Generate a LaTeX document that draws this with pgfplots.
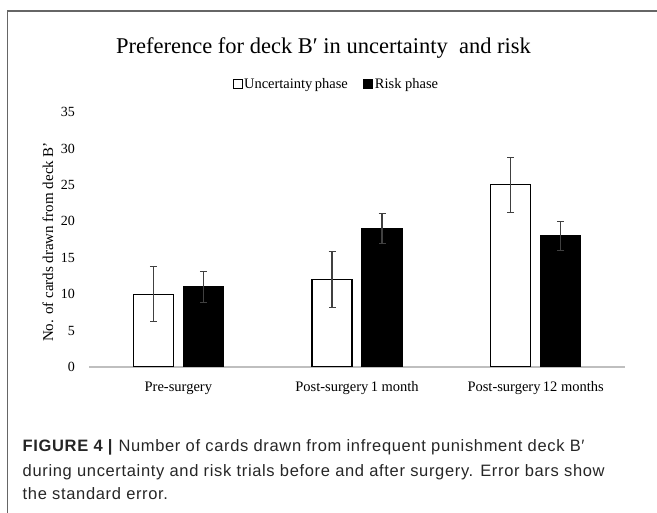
\documentclass[border=0pt]{standalone}
\usepackage{fontspec}
\setmainfont{Liberation Serif}
\newfontfamily\capfont[LetterSpace=4]{Liberation Sans}
\usepackage{pgfplots}
\pgfplotsset{compat=1.18}
\pgfplotsset{myerr/.style={error bars/.cd, y dir=both, y explicit,
  error bar style={line width=1.2pt, black!75},
  error mark options={rotate=90, mark size=3.5pt, line width=1.2pt, black!75}}}
\begin{document}
\begin{tikzpicture}
\path[use as bounding box] (0pt,0pt) rectangle (657pt,-513pt);
\draw[black!60, line width=1.4pt] (7.5pt,-513pt) -- (7.5pt,-11pt) -- (657pt,-11pt);
\node[font=\fontsize{22.5}{26}\selectfont, anchor=base, inner sep=0pt] at (323.5pt,-54pt) {Preference for deck B′ in uncertainty\ \ and risk};
\node[font=\fontsize{15}{18}\selectfont, rotate=90, inner sep=0pt] at (48pt,-242pt) {No. of cards drawn from deck B'};
\begin{axis}[
  at={(89pt,-367pt)}, anchor=south west,
  scale only axis, width=536pt, height=255pt,
  ymin=0, ymax=35, ytick={0,5,...,35},
  xmin=-0.5, xmax=2.5, xtick={0,1,2},
  xticklabels={Pre-surgery, Post-surgery\,1 month, Post-surgery\,12 months},
  axis lines*=left,
  x axis line style={black!25, line width=1.2pt},
  y axis line style={draw=none},
  major tick length=0pt,
  ybar=10pt, bar width=40pt,
  tick label style={font=\fontsize{14.5}{17}\selectfont},
  yticklabel style={font=\fontsize{14}{17}\selectfont},
  /pgf/number format/assume math mode=true,
  yticklabel style={anchor=east, inner sep=0pt, xshift=-14pt},
  xticklabel style={anchor=center, inner sep=0pt, yshift=-21pt},
  legend columns=2,
  legend style={at={(0.461,1.110)}, anchor=center, draw=none, inner sep=0pt,
     font=\fontsize{14.5}{17}\selectfont,
     nodes={inner sep=1.5pt},
     /tikz/every even column/.append style={column sep=14pt}},
  legend image code/.code={\draw[#1, line width=1pt] (0pt,-4.5pt) rectangle (9pt,4.5pt);},
]
\addplot[draw=black, fill=white, line width=1.2pt, myerr] coordinates {(0,10) +- (0,3.8) (1,12) +- (0,3.8) (2,25) +- (0,3.8)};
\addplot[draw=black, fill=black, line width=1.2pt, myerr] coordinates {(0,11) +- (0,2.1) (1,19) +- (0,2.05) (2,18) +- (0,2.0)};
\legend{Uncertainty\,phase, Risk phase}
\end{axis}
\begin{scope}[font=\capfont\fontsize{16.5}{20}\selectfont]
\node[anchor=base west, inner sep=0pt, black!85] at (22.5pt,-452pt) {\textbf{FIGURE 4 |} Number of cards drawn from infrequent punishment deck B′};
\node[anchor=base west, inner sep=0pt, black!85] at (22.5pt,-476pt) {during uncertainty and risk trials before and after surgery. Error bars show};
\node[anchor=base west, inner sep=0pt, black!85] at (22.5pt,-500pt) {the standard error.};
\end{scope}
\end{tikzpicture}
\end{document}
